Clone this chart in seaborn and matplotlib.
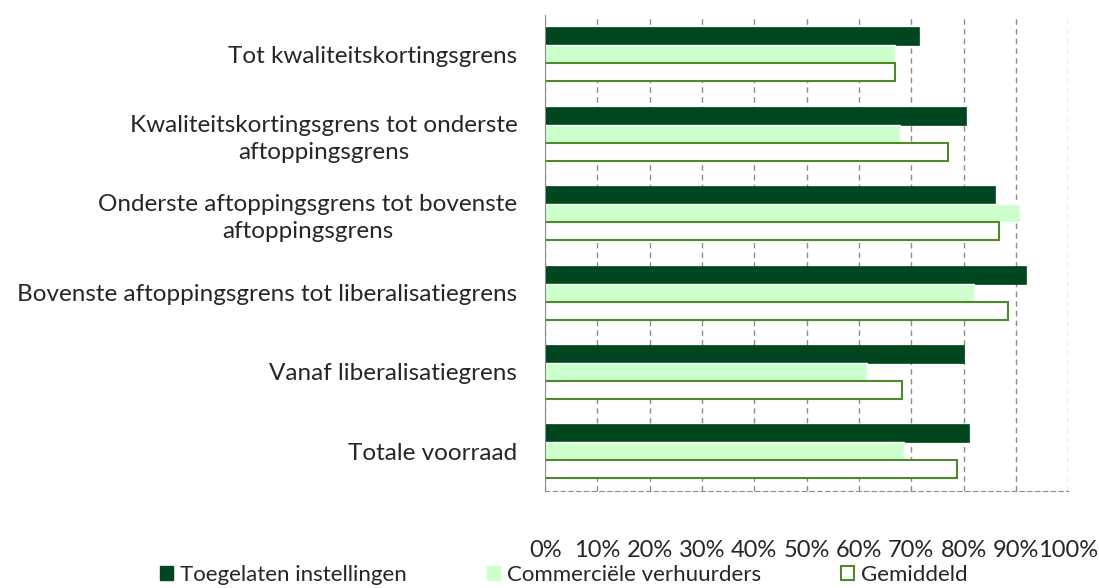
import matplotlib
matplotlib.use('Agg')
import matplotlib.pyplot as plt
import pandas as pd
import seaborn as sns
import numpy as np
from matplotlib.patches import Patch

categories = ['Tot kwaliteitskortingsgrens',
              'Kwaliteitskortingsgrens tot onderste\naftoppingsgrens',
              'Onderste aftoppingsgrens tot bovenste\naftoppingsgrens',
              'Bovenste aftoppingsgrens tot liberalisatiegrens',
              'Vanaf liberalisatiegrens',
              'Totale voorraad']
series = ['Toegelaten instellingen', 'Commerciële verhuurders', 'Gemiddeld']
toegelaten = [71.5, 80.4, 86.0, 92.0, 80.1, 81.1]
commercieel = [66.8, 67.9, 90.8, 81.9, 61.5, 68.7]
gemiddeld = [66.8, 77.0, 86.8, 88.5, 68.3, 78.8]
xtick_labels = ['0%', '10%', '20%', '30%', '40%', '50%', '60%', '70%', '80%', '90%', '100%']

rows = []
for name, vals in zip(series, [toegelaten, commercieel, gemiddeld]):
    for cat, v in zip(categories, vals):
        rows.append({'cat': cat, 'serie': name, 'pct': v})
df = pd.DataFrame(rows)

sns.set_style('white')
plt.rcParams['font.family'] = ['Lato', 'DejaVu Sans']

dark = '#00471f'
light = '#ccffcc'
edge = '#4e8a2a'
palette = {series[0]: dark, series[1]: light, series[2]: 'white'}

fig = plt.figure(figsize=(10.99, 5.88), dpi=100)
ax = fig.add_axes([0.496, 0.165, 0.476, 0.81])
sns.barplot(data=df, y='cat', x='pct', hue='serie', hue_order=series,
            order=categories, palette=palette, orient='h', width=0.68,
            saturation=1, legend=False, ax=ax)

for p in ax.containers[2]:
    p.set_edgecolor(edge)
    p.set_linewidth(1.5)
for p in ax.containers[0]:
    p.set_edgecolor(dark)
    p.set_linewidth(0.5)

ax.set_xlim(0, 100)
ax.set_ylim(len(categories) - 0.5, -0.5)
ax.set_xticks(np.arange(0, 101, 10))
ax.set_xticklabels(xtick_labels, fontsize=17)
ax.set_xlabel('')
ax.set_ylabel('')
ax.xaxis.grid(True, color='#8c8c8c', linestyle=(0, (4, 3)), linewidth=1)
ax.set_axisbelow(True)

ax.tick_params(axis='x', length=4, direction='inout', color='#8c8c8c', pad=33)
ax.tick_params(axis='y', which='major', length=0, pad=20, labelsize=17.5)
ax.set_yticks(np.arange(-0.5, len(categories), 1), minor=True)
ax.tick_params(axis='y', which='minor', length=5, color='#8c8c8c', direction='out')
for t in ax.get_yticklabels():
    t.set_multialignment('center')
    t.set_linespacing(1.35)

for s in ['top', 'right']:
    ax.spines[s].set_visible(False)
ax.spines['left'].set_color('#8c8c8c')
ax.spines['bottom'].set_color('#8c8c8c')
ax.spines['bottom'].set_linestyle((0, (4, 3)))

handles = [Patch(facecolor=dark, edgecolor=dark),
           Patch(facecolor=light, edgecolor=light),
           Patch(facecolor='white', edgecolor=edge, linewidth=1.5)]
fig.legend(handles, series, loc='center', bbox_to_anchor=(0.513, 0.022),
           ncol=3, frameon=False, fontsize=16, columnspacing=3.6,
           handlelength=0.6, handleheight=0.6, handletextpad=0.3,
           borderaxespad=0, borderpad=0)

fig.savefig('out.png', dpi=100)
